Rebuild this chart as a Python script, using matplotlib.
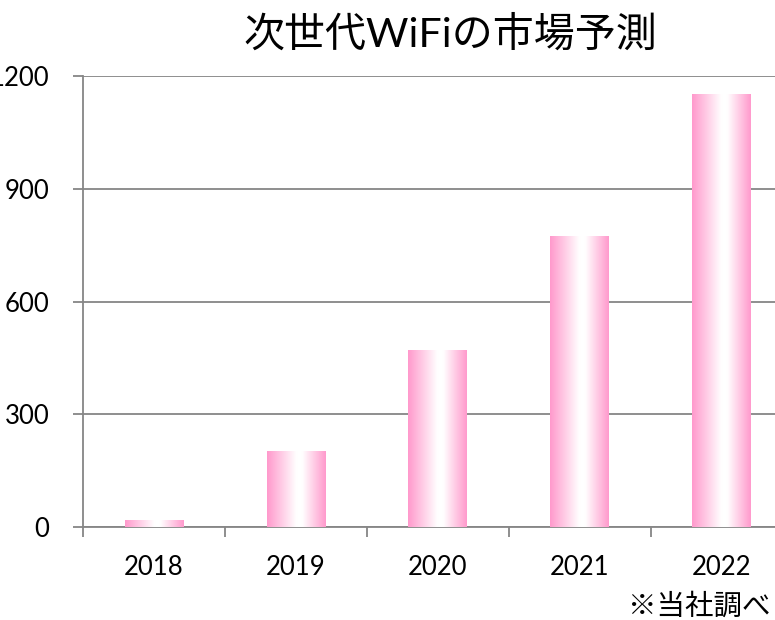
import numpy as np
import matplotlib
matplotlib.use("Agg")
import matplotlib.pyplot as plt
from matplotlib.colors import LinearSegmentedColormap

# ── Data ──────────────────────────────────────────────────────────────────────
years  = ["2018", "2019", "2020", "2021", "2022"]
values = [16, 200, 470, 772, 1150]
yticks = [0, 300, 600, 900, 1200]

TITLE = "次世代WiFiの市場予測"
NOTE  = "※当社調べ"

FONT = ["Lato", "Noto Sans CJK JP", "DejaVu Sans"]
plt.rcParams["font.family"] = FONT

GREY = "#868686"
PINK = "#FF99CC"

# horizontal pink -> white -> pink gradient used for each bar
cmap = LinearSegmentedColormap.from_list(
    "pinkbar", [(0.0, PINK), (0.5, "#FFFFFF"), (0.6, "#FFFFFF"), (1.0, PINK)])
grad = np.linspace(0, 1, 256).reshape(1, -1)

# ── Plot ──────────────────────────────────────────────────────────────────────
fig = plt.figure(figsize=(7.75, 6.2), dpi=100)
ax = fig.add_axes([0.1071, 0.150, 0.916, 0.7274])

x = np.arange(len(years))
bars = ax.bar(x, values, width=0.415, color="none", edgecolor="none", zorder=3)
for b in bars:
    x0, w, h = b.get_x(), b.get_width(), b.get_height()
    ax.imshow(grad, extent=[x0, x0 + w, 0, h], aspect="auto",
              cmap=cmap, interpolation="bicubic", zorder=3)

ax.set_xlim(-0.5, len(years) - 0.5)
ax.set_ylim(0, 1200)
ax.set_aspect("auto")

ax.set_yticks(yticks)
ax.set_yticklabels([str(v) for v in yticks])
ax.yaxis.grid(True, color=GREY, lw=1.3, zorder=1)
ax.set_axisbelow(True)

ax.set_xticks(x)
ax.set_xticklabels(years)
ax.set_xticks(np.arange(-0.5, len(years)), minor=True)
ax.tick_params(axis="x", which="major", length=0, pad=20, labelsize=18.5)
ax.tick_params(axis="x", which="minor", length=7.2, width=1.3, color=GREY)
ax.tick_params(axis="y", length=7.2, width=1.3, color=GREY, pad=17, labelsize=18.5)

for s in ["top", "right"]:
    ax.spines[s].set_visible(False)
for s in ["left", "bottom"]:
    ax.spines[s].set_color(GREY)
    ax.spines[s].set_linewidth(1.3)

fig.text(0.581, 0.945, TITLE, ha="center", va="center", fontsize=29.5)
fig.text(0.994, 0.0, NOTE, ha="right", va="bottom", fontsize=20.5)

fig.savefig("out.png", dpi=100)
